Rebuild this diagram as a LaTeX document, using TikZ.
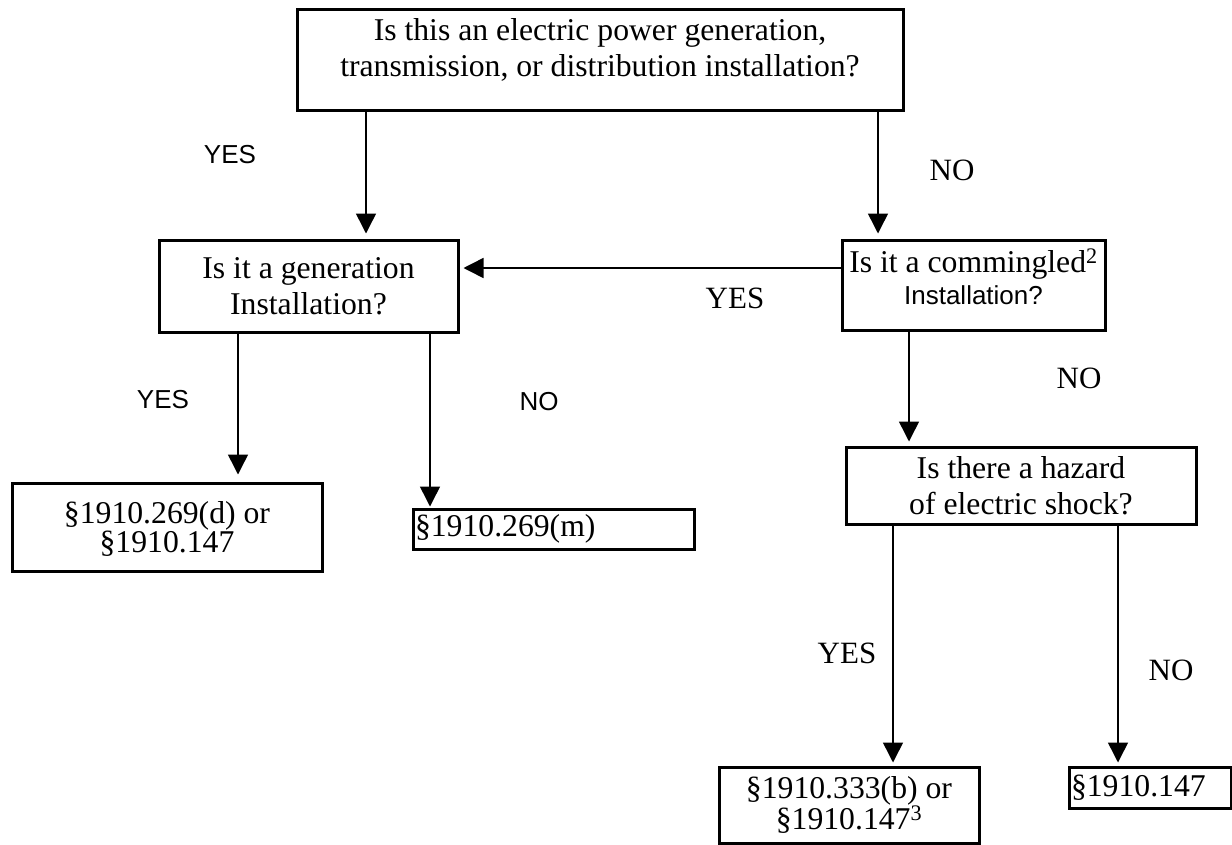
\documentclass[tikz,border=0pt]{standalone}
\usepackage{fontspec}
\setmainfont{Liberation Serif}
\setsansfont{Liberation Sans}
\usetikzlibrary{arrows.meta}

\begin{document}
\begin{tikzpicture}[x=1pt,y=-1pt,
  qbox/.style n args={2}{draw,line width=3pt,rectangle,minimum width=#1pt,minimum height=#2pt,inner sep=2pt,align=center,font=\fontsize{31.7}{36}\selectfont},
  rbox/.style n args={2}{draw,line width=3pt,rectangle,text width=#1pt,minimum height=#2pt,inner xsep=2pt,inner ysep=2pt,align=left,font=\fontsize{31.7}{36}\selectfont},
  lblrm/.style={inner sep=0pt,font=\fontsize{31}{36}\selectfont},
  lblsf/.style={inner sep=0pt,font=\sffamily\fontsize{26}{30}\selectfont},
  arr/.style={-{Triangle[width=20pt,length=20pt]},line width=1.5pt}]
\useasboundingbox (0,0) rectangle (1232,844);
% questions
\node[qbox={606}{101},text depth=25pt](top) at (600,59.5) {Is this an electric power generation,\\transmission, or distribution installation?};
\node[qbox={299}{92}](gen) at (308.5,286) {Is it a generation\\Installation?};
\node[qbox={263}{90},text depth=16pt](com) at (973.5,285) {Is it a commingled\textsuperscript{2}\\[-4pt]{\sffamily\fontsize{26}{30}\selectfont Installation?}};
\node[qbox={350}{77}](haz) at (1021,485.5) {Is there a hazard\\of electric shock?};
% results
\node[qbox={310}{88},font=\fontsize{31.7}{28}\selectfont,text depth=0pt](resD) at (167,527) {§1910.269(d) or\\§1910.147};
\node[rbox={277}{40}](resM) at (553.5,529) {§1910.269(m)};
\node[qbox={260}{76},font=\fontsize{31.7}{30}\selectfont](resB) at (849,805) {§1910.333(b) or\\§1910.147\textsuperscript{3}};
\node[rbox={158}{41}](resF) at (1150,787.5) {§1910.147};
% labels
\node[lblsf](y1) at (230,155) {YES};
\node[lblrm](n1) at (952,170) {NO};
\node[lblrm](y2) at (735,298) {YES};
\node[lblsf](y3) at (163,400) {YES};
\node[lblsf](n2) at (539,402) {NO};
\node[lblrm](n3) at (1079,378) {NO};
\node[lblrm](y4) at (847,653) {YES};
\node[lblrm](n4) at (1171,670) {NO};
% connectors
\draw[arr,shorten >=5pt] ([xshift=-234pt]top.south) -- ([xshift=-234pt]top.south |- gen.north);
\draw[arr,shorten >=5pt] ([xshift=278pt]top.south) -- ([xshift=278pt]top.south |- com.north);
\draw[arr,shorten >=4pt] ([yshift=17pt]com.west) -- ([yshift=17pt]com.west -| gen.east);
\draw[arr,shorten >=7pt] ([xshift=-70.5pt]gen.south) -- ([xshift=-70.5pt]gen.south |- resD.north);
\draw[arr,shorten >=1pt] ([xshift=121.5pt]gen.south) -- ([xshift=121.5pt]gen.south |- resM.north);
\draw[arr,shorten >=4pt] ([xshift=-64.5pt]com.south) -- ([xshift=-64.5pt]com.south |- haz.north);
\draw[arr,shorten >=3pt] ([xshift=-128pt]haz.south) -- ([xshift=-128pt]haz.south |- resB.north);
\draw[arr,shorten >=3pt] ([xshift=97pt]haz.south) -- ([xshift=97pt]haz.south |- resF.north);
\end{tikzpicture}
\end{document}
